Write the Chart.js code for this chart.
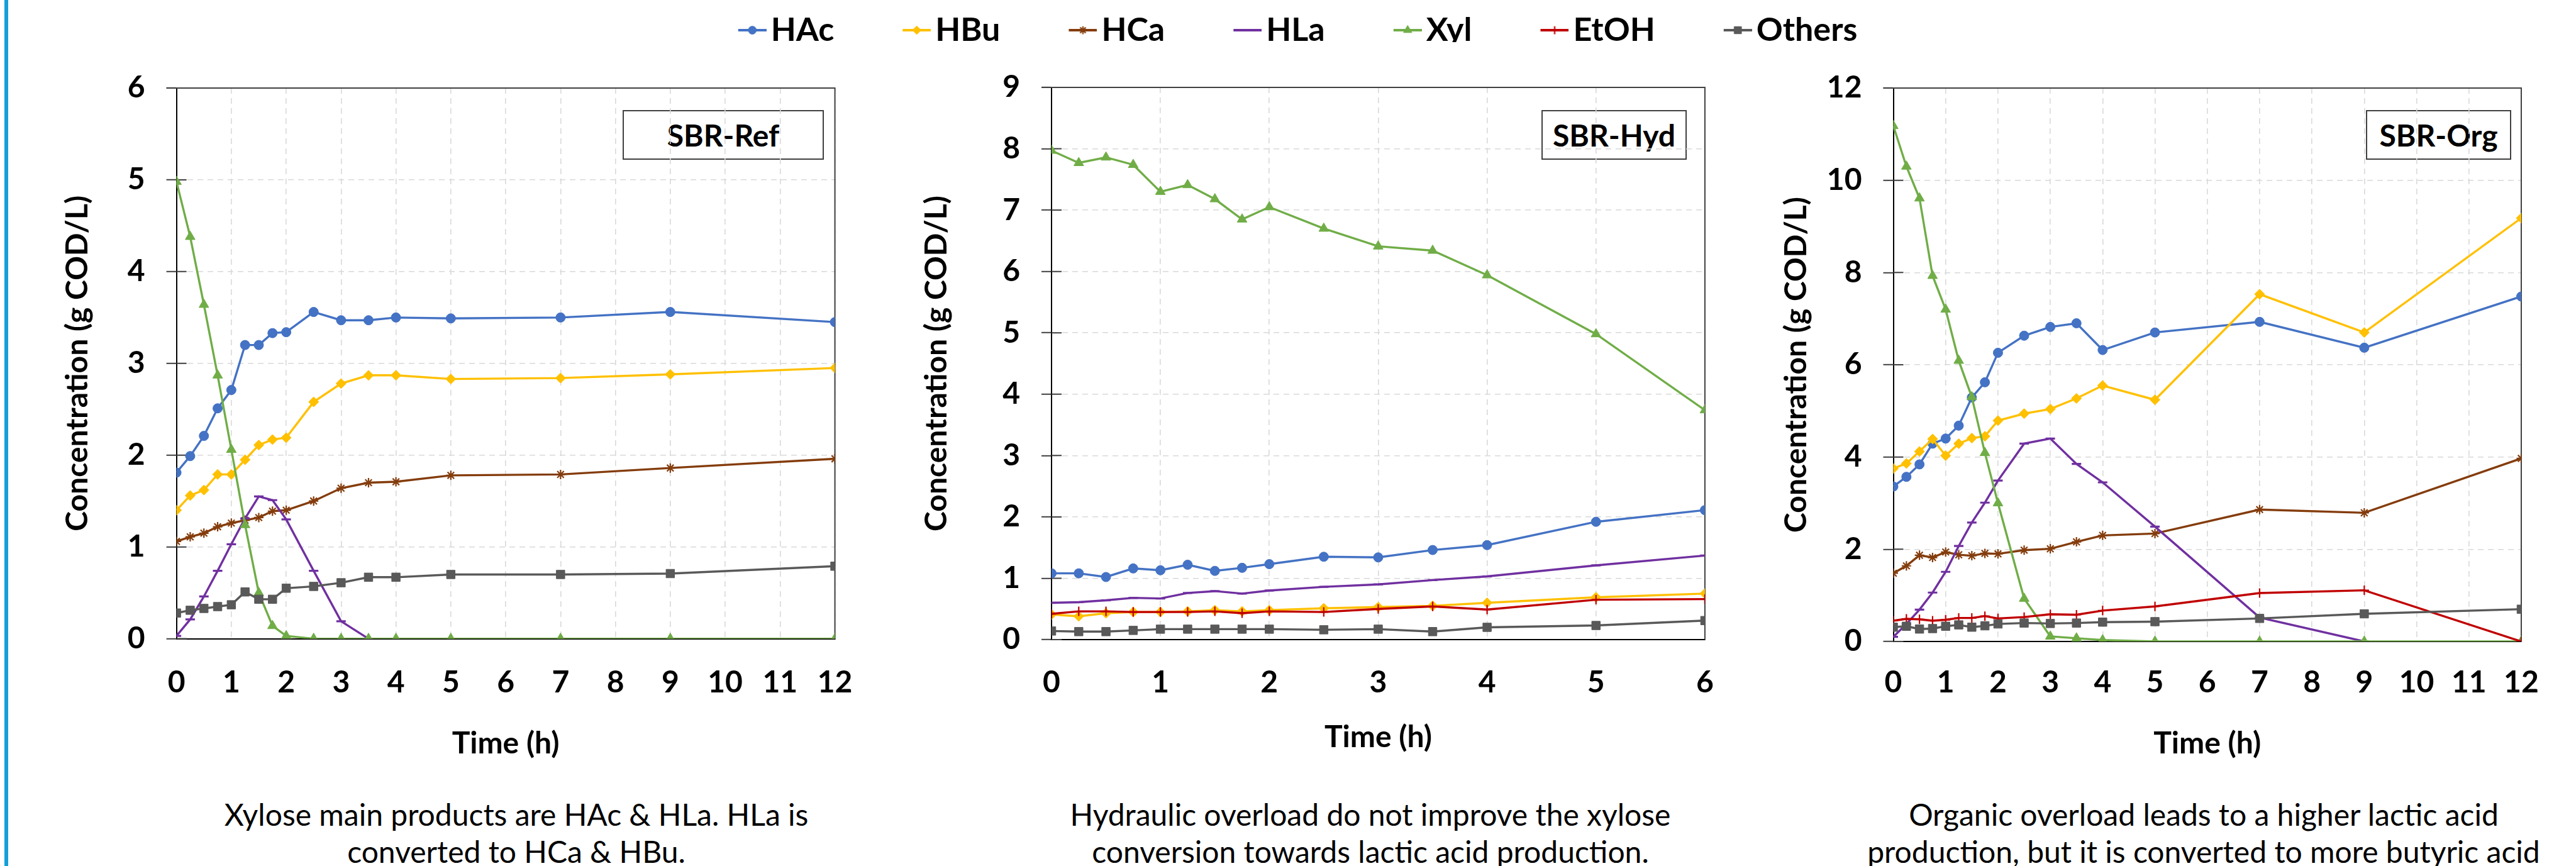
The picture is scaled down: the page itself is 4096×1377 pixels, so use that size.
<!DOCTYPE html>
<html>
<head>
<meta charset="utf-8">
<script src="https://cdn.jsdelivr.net/npm/chart.js"></script>
<style>
  html, body { margin: 0; padding: 0; background: #fff; }
  #page { position: relative; width: 4096px; height: 1377px; overflow: hidden; background: #fff; font-family: Lato, 'Open Sans', sans-serif; }
  #page canvas { position: absolute; top: 0; }
  .edge { position: absolute; left: 7px; top: 0; width: 6px; height: 1377px; background: #159fd9; }
  .tag { position: absolute; top: 175px; height: 79px; box-sizing: border-box; border: 2px solid #404040; background: #fff;
         display: flex; align-items: center; justify-content: center; font-weight: 700; font-size: 48px; color: #000; }
  .caption { position: absolute; top: 1265px; width: 1400px; text-align: center; font-size: 48px; line-height: 59px; color: #000; }
</style>
</head>
<body>
<div id="page">
  <div class="edge"></div>
  <div class="tag" style="left:990px;width:320px">SBR-Ref</div>
  <div class="tag" style="left:2451px;width:231px">SBR-Hyd</div>
  <div class="tag" style="left:3762px;width:231px">SBR-Org</div>
  <div class="caption" style="left:121px">Xylose main products are HAc &amp; HLa. HLa is<br>converted to HCa &amp; HBu.</div>
  <div class="caption" style="left:1479px">Hydraulic overload do not improve the xylose<br>conversion towards lactic acid production.</div>
  <div class="caption" style="left:2804px">Organic overload leads to a higher lactic acid<br>production, but it is converted to more butyric acid</div>
</div>
<script>
const SERIES = ['HAc', 'HBu', 'HCa', 'HLa', 'Xyl', 'EtOH', 'Others'];
const COLORS = ['#4472C4', '#FFC000', '#843C0C', '#7030A0', '#70AD47', '#C00000', '#595959'];
const MARKERS = ['circle', 'rectRot', 'star', 'line', 'triangle', 'cross', 'rect'];
const MARKER_SIZE = [7.5, 8, 7.5, 7.5, 9, 7.5, 9.5];
const MARKER_LINE = [1, 1, 2.2, 3.2, 1, 2.2, 1];

// SBR-Ref
const timeRef = [0, 0.25, 0.5, 0.75, 1, 1.25, 1.5, 1.75, 2, 2.5, 3, 3.5, 4, 5, 7, 9, 12];
const refHAc = [1.81, 1.99, 2.21, 2.51, 2.71, 3.20, 3.20, 3.33, 3.34, 3.56, 3.47, 3.47, 3.50, 3.49, 3.50, 3.56, 3.45];
const refHBu = [1.40, 1.56, 1.62, 1.79, 1.79, 1.95, 2.11, 2.17, 2.19, 2.58, 2.78, 2.87, 2.87, 2.83, 2.84, 2.88, 2.95];
const refHCa = [1.06, 1.11, 1.15, 1.22, 1.26, 1.29, 1.32, 1.39, 1.40, 1.50, 1.64, 1.70, 1.71, 1.78, 1.79, 1.86, 1.96];
const refHLa = [0.03, 0.21, 0.46, 0.74, 1.03, 1.31, 1.55, 1.51, 1.30, 0.74, 0.19, 0, null, null, null, null, null];
const refXyl = [4.98, 4.38, 3.64, 2.87, 2.06, 1.24, 0.50, 0.14, 0.03, 0, 0, 0, 0, 0, 0, 0, 0];
const refOthers = [0.28, 0.31, 0.33, 0.35, 0.37, 0.51, 0.43, 0.43, 0.55, 0.57, 0.61, 0.67, 0.67, 0.70, 0.70, 0.71, 0.79];

// SBR-Hyd
const timeHyd = [0, 0.25, 0.5, 0.75, 1, 1.25, 1.5, 1.75, 2, 2.5, 3, 3.5, 4, 5, 6];
const hydHAc = [1.08, 1.08, 1.02, 1.16, 1.13, 1.22, 1.12, 1.17, 1.23, 1.35, 1.34, 1.46, 1.54, 1.92, 2.11];
const hydHBu = [0.41, 0.38, 0.43, 0.45, 0.45, 0.46, 0.48, 0.46, 0.48, 0.51, 0.53, 0.55, 0.60, 0.69, 0.75];
const hydHLa = [0.60, 0.61, 0.64, 0.68, 0.67, 0.76, 0.79, 0.75, 0.80, 0.86, 0.90, 0.97, 1.03, 1.21, 1.37];
const hydXyl = [7.97, 7.77, 7.86, 7.74, 7.30, 7.41, 7.18, 6.85, 7.05, 6.70, 6.41, 6.34, 5.94, 4.98, 3.74];
const hydEtOH = [0.42, 0.46, 0.46, 0.45, 0.45, 0.45, 0.46, 0.43, 0.46, 0.45, 0.50, 0.54, 0.49, 0.65, 0.66];
const hydOthers = [0.14, 0.13, 0.13, 0.15, 0.17, 0.17, 0.17, 0.17, 0.17, 0.16, 0.17, 0.13, 0.20, 0.23, 0.31];

// SBR-Org
const timeOrg = [0, 0.25, 0.5, 0.75, 1, 1.25, 1.5, 1.75, 2, 2.5, 3, 3.5, 4, 5, 7, 9, 12];
const orgHAc = [3.36, 3.57, 3.84, 4.29, 4.40, 4.68, 5.29, 5.62, 6.26, 6.63, 6.82, 6.90, 6.32, 6.70, 6.93, 6.37, 7.48];
const orgHBu = [3.75, 3.86, 4.12, 4.39, 4.03, 4.29, 4.41, 4.45, 4.79, 4.94, 5.04, 5.27, 5.55, 5.24, 7.53, 6.70, 9.18];
const orgHCa = [1.48, 1.64, 1.87, 1.82, 1.94, 1.88, 1.86, 1.91, 1.90, 1.98, 2.01, 2.16, 2.30, 2.34, 2.86, 2.79, 3.97];
const orgHLa = [0.10, 0.38, 0.69, 1.06, 1.51, 2.07, 2.58, 3.01, 3.49, 4.29, 4.40, 3.85, 3.45, 2.49, 0.52, 0, null];
const orgXyl = [11.18, 10.30, 9.61, 7.93, 7.20, 6.09, 5.30, 4.09, 3.00, 0.93, 0.11, 0.07, 0.03, 0, 0, 0, 0];
const orgEtOH = [0.45, 0.49, 0.48, 0.45, 0.47, 0.51, 0.51, 0.55, 0.50, 0.53, 0.59, 0.58, 0.67, 0.76, 1.05, 1.11, 0];
const orgOthers = [0.31, 0.33, 0.27, 0.28, 0.33, 0.36, 0.31, 0.34, 0.38, 0.40, 0.39, 0.40, 0.42, 0.43, 0.50, 0.60, 0.70];

const FONT = 'Lato, "Open Sans", sans-serif';
const SIZE = 48;
const HALF = SIZE * 1.2 / 2;
const TICK_Y = 1086;   // centre line of the time tick labels
const page = document.getElementById('page');

// plot area frame (top + right) and inner half of the y tick marks
const frame = {
  id: 'frame',
  beforeDatasetsDraw(chart) {
    const {ctx, chartArea: a} = chart;
    const y = chart.scales.y;
    ctx.save();
    ctx.strokeStyle = '#404040';
    ctx.lineWidth = 2;
    ctx.beginPath();
    ctx.moveTo(a.left - 16, a.top);
    ctx.lineTo(a.right, a.top);
    ctx.lineTo(a.right, a.bottom);
    y.ticks.forEach(t => {
      const py = y.getPixelForValue(t.value);
      ctx.moveTo(a.left, py);
      ctx.lineTo(a.left + 16, py);
    });
    ctx.stroke();
    ctx.restore();
  }
};

function makePanel(times, values, yMax, yStep, xMax, b) {
  const left = Math.floor(b.yTitle - 60);
  const right = Math.ceil(b.R + 45);
  const xh = b.xTitle - b.B + HALF;
  const canvas = document.createElement('canvas');
  canvas.width = right - left;
  canvas.height = 1377;
  canvas.style.left = left + 'px';
  page.appendChild(canvas);

  const datasets = [];
  SERIES.forEach((name, i) => {
    const vals = values[i];
    if (!vals) return;
    datasets.push({
      label: name,
      data: times.map((t, k) => ({x: t, y: vals[k]})),
      borderColor: COLORS[i],
      backgroundColor: COLORS[i],
      pointBorderColor: COLORS[i],
      pointBackgroundColor: COLORS[i],
      borderWidth: 3.4,
      pointStyle: MARKERS[i],
      pointRadius: MARKER_SIZE[i],
      pointBorderWidth: MARKER_LINE[i],
      tension: 0,
      order: SERIES.length - 1 - i
    });
  });

  const font = {family: FONT, size: SIZE, weight: 'bold'};
  new Chart(canvas, {
    type: 'line',
    data: {datasets},
    options: {
      responsive: false,
      animation: false,
      events: [],
      layout: {padding: {left: 0, right: right - b.R, top: b.T, bottom: 1377 - b.B - xh}},
      plugins: {legend: {display: false}, tooltip: {enabled: false}},
      scales: {
        x: {
          type: 'linear', min: 0, max: xMax,
          afterFit: s => { s.height = xh; },
          ticks: {stepSize: 1, autoSkip: false, maxRotation: 0, padding: TICK_Y - b.B - HALF, color: '#000', font},
          grid: {color: '#d9d9d9', lineWidth: 1.6, drawTicks: false},
          border: {color: '#000', width: 2, dash: [9, 7]},
          title: {display: true, text: 'Time (h)', color: '#000', font, padding: 0}
        },
        y: {
          min: 0, max: yMax,
          afterFit: s => { s.width = b.L - left; },
          ticks: {stepSize: yStep, padding: 34, color: '#000', font},
          grid: {color: '#d9d9d9', lineWidth: 1.6, tickLength: 16, tickColor: '#404040', tickWidth: 2},
          border: {color: '#000', width: 2, dash: [9, 7]},
          title: {display: true, text: 'Concentration (g COD/L)', color: '#000', font,
                  padding: {top: b.yTitle - left - HALF, bottom: 0}}
        }
      }
    },
    plugins: [frame]
  });
}

makePanel(timeRef, [refHAc, refHBu, refHCa, refHLa, refXyl, null, refOthers], 6, 1, 12,
  {L: 280.6, R: 1351.4, T: 140, B: 1015.6, yTitle: 123.5, xTitle: 1182.7});
makePanel(timeHyd, [hydHAc, hydHBu, null, hydHLa, hydXyl, hydEtOH, hydOthers], 9, 1, 6,
  {L: 1672, R: 2720, T: 139, B: 1017, yTitle: 1489.6, xTitle: 1172.8});
makePanel(timeOrg, [orgHAc, orgHBu, orgHCa, orgHLa, orgXyl, orgEtOH, orgOthers], 12, 2, 12,
  {L: 3010.5, R: 4028.6, T: 140, B: 1020, yTitle: 2856.6, xTitle: 1182.7});

// shared legend: line + marker icons like the spreadsheet legend.
// The legend box is 125 wide; the icon sits at its right end, close to the label.
const LEG_BOX = 125;
function legendIcon(i) {
  const c = document.createElement('canvas');
  c.width = 163;
  c.height = 28;
  const g = c.getContext('2d');
  g.strokeStyle = COLORS[i];
  g.fillStyle = COLORS[i];
  g.lineWidth = 4;
  g.beginPath();
  g.moveTo(118, 14);
  g.lineTo(163, 14);
  g.stroke();
  g.lineWidth = MARKER_LINE[i];
  if (Chart.helpers && Chart.helpers.drawPoint) {
    Chart.helpers.drawPoint(g, {pointStyle: MARKERS[i], radius: MARKER_SIZE[i] * 0.85, rotation: 0, borderWidth: MARKER_LINE[i]}, 140.5, 14);
  } else {
    g.beginPath();
    g.arc(140.5, 14, MARKER_SIZE[i], 0, Math.PI * 2);
    g.fill();
  }
  return c;
}

const legendCanvas = document.createElement('canvas');
legendCanvas.width = 4096;
legendCanvas.height = 110;
legendCanvas.style.left = '-34px';
legendCanvas.style.top = '12px';
page.appendChild(legendCanvas);
new Chart(legendCanvas, {
  type: 'line',
  data: {datasets: SERIES.map((name, i) => ({label: name, data: [], borderColor: COLORS[i], backgroundColor: COLORS[i]}))},
  options: {
    responsive: false,
    animation: false,
    events: [],
    layout: {padding: 0},
    scales: {x: {display: false}, y: {display: false}},
    plugins: {
      tooltip: {enabled: false},
      legend: {
        position: 'top',
        labels: {
          color: '#000',
          font: {family: FONT, size: 52, weight: 'bold'},
          usePointStyle: true,
          pointStyleWidth: LEG_BOX,
          padding: 10,
          generateLabels: chart => chart.data.datasets.map((ds, i) => ({
            text: ds.label,
            pointStyle: legendIcon(i),
            fillStyle: COLORS[i],
            strokeStyle: COLORS[i],
            lineWidth: 0,
            hidden: false,
            datasetIndex: i
          }))
        }
      }
    }
  }
});
</script>
</body>
</html>
